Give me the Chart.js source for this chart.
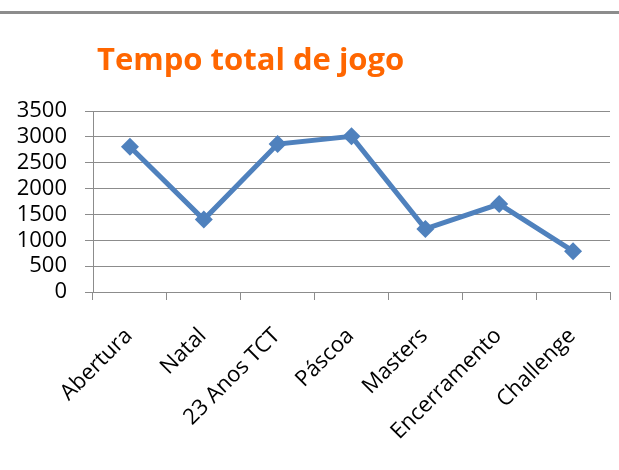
<!DOCTYPE html>
<html>
<head>
<meta charset="utf-8">
<script src="https://cdn.jsdelivr.net/npm/chart.js@4"></script>
<style>
  body { margin: 0; background: #fff; }
  #wrap { position: relative; width: 619px; height: 470px; }
  #topline { position: absolute; left: 0; top: 11px; width: 619px; height: 3px; background: #8c8c8c; }
</style>
</head>
<body>
<div id="wrap">
  <div id="topline"></div>
  <canvas id="lineChart" width="619" height="470"></canvas>
</div>
<script>
const titleText = 'Tempo total de jogo';
const categories = ['Abertura', 'Natal', '23 Anos TCT', 'Páscoa', 'Masters', 'Encerramento', 'Challenge'];
const tempo = [2810, 1400, 2860, 3010, 1220, 1700, 790];
const yMax = 3500;
const yStep = 500;

// title sits left of centre in the original, so draw it ourselves
const titlePlugin = {
    id: 'leftTitle',
    afterDraw(chart) {
        const c = chart.ctx;
        c.save();
        c.font = 'bold 31px "Open Sans"';
        c.fillStyle = '#FF6600';
        c.textBaseline = 'alphabetic';
        c.fillText(titleText, 97, 70);
        c.restore();
    }
};

const ctx = document.getElementById('lineChart').getContext('2d');
const myChart = new Chart(ctx, {
    type: 'line',
    data: {
        labels: categories,
        datasets: [{
            data: tempo,
            borderColor: '#4F81BD',
            backgroundColor: '#4F81BD',
            borderWidth: 5,
            pointStyle: 'rectRot',
            pointRadius: 9,
            pointHoverRadius: 9,
            pointBorderWidth: 0,
            tension: 0
        }]
    },
    options: {
        responsive: false,
        animation: false,
        layout: { padding: { top: 111, right: 9, left: 0, bottom: 0 } },
        plugins: {
            legend: { display: false },
            title: { display: false },
            tooltip: { enabled: false }
        },
        scales: {
            x: {
                offset: true,
                grid: { offset: true, display: true, drawOnChartArea: false, color: '#8c8c8c', tickLength: 8 },
                border: { color: '#8c8c8c', width: 1 },
                ticks: {
                    color: '#000',
                    font: { family: '"Open Sans"', size: 22 },
                    minRotation: 45,
                    maxRotation: 45,
                    autoSkip: false,
                    padding: 23,
                    labelOffset: -1
                },
                afterFit(scale) { scale.height = 178; }
            },
            y: {
                min: 0,
                max: yMax,
                grid: { color: '#8c8c8c', tickLength: 8 },
                border: { color: '#8c8c8c', width: 1 },
                ticks: {
                    color: '#000',
                    font: { family: '"Open Sans"', size: 22 },
                    stepSize: yStep,
                    autoSkip: false,
                    padding: 18,
                    callback: v => String(v)
                },
                afterFit(scale) { scale.width = 93; }
            }
        }
    },
    plugins: [titlePlugin]
});
</script>
</body>
</html>
